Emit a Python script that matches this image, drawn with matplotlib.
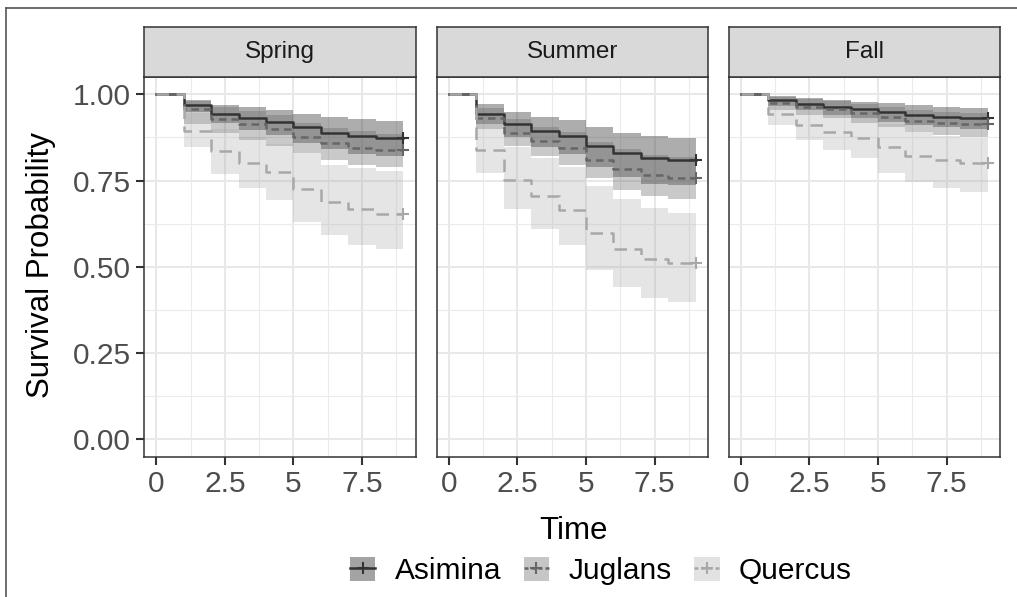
import matplotlib
matplotlib.use('Agg')
import matplotlib.pyplot as plt
from matplotlib.lines import Line2D
from matplotlib.patches import Patch
from matplotlib.legend_handler import HandlerTuple

plt.rcParams['font.family'] = ['Liberation Sans', 'DejaVu Sans']

# step times (value holds from t[i] to t[i+1]); last point is the censor at 9
times = [0, 1, 2, 3, 4, 5, 6, 7, 8, 9]
seasons = ['Spring', 'Summer', 'Fall']
species = ['Asimina', 'Juglans', 'Quercus']

# Spring
spr_asi = [1.0, 0.968, 0.944, 0.930, 0.920, 0.904, 0.888, 0.879, 0.874]
spr_asi_lo = [1.0, 0.948, 0.917, 0.896, 0.883, 0.860, 0.840, 0.828, 0.822]
spr_asi_hi = [1.0, 0.983, 0.970, 0.962, 0.954, 0.944, 0.933, 0.927, 0.923]
spr_jug = [1.0, 0.956, 0.928, 0.915, 0.899, 0.875, 0.858, 0.845, 0.838]
spr_jug_lo = [1.0, 0.915, 0.887, 0.867, 0.850, 0.830, 0.810, 0.795, 0.790]
spr_jug_hi = [1.0, 0.980, 0.962, 0.952, 0.940, 0.918, 0.903, 0.893, 0.886]
spr_que = [1.0, 0.894, 0.835, 0.802, 0.774, 0.726, 0.689, 0.667, 0.654]
spr_que_lo = [1.0, 0.846, 0.769, 0.728, 0.694, 0.631, 0.591, 0.562, 0.553]
spr_que_hi = [1.0, 0.945, 0.900, 0.875, 0.855, 0.830, 0.795, 0.785, 0.778]

# Summer
sum_asi = [1.0, 0.944, 0.915, 0.894, 0.880, 0.850, 0.829, 0.814, 0.810]
sum_asi_lo = [1.0, 0.913, 0.876, 0.847, 0.828, 0.788, 0.761, 0.740, 0.736]
sum_asi_hi = [1.0, 0.971, 0.949, 0.935, 0.925, 0.904, 0.888, 0.879, 0.874]
sum_jug = [1.0, 0.930, 0.889, 0.865, 0.845, 0.810, 0.783, 0.765, 0.757]
sum_jug_lo = [1.0, 0.898, 0.850, 0.821, 0.795, 0.757, 0.723, 0.704, 0.696]
sum_jug_hi = [1.0, 0.960, 0.928, 0.905, 0.892, 0.862, 0.840, 0.825, 0.818]
sum_que = [1.0, 0.838, 0.752, 0.704, 0.665, 0.598, 0.552, 0.524, 0.511]
sum_que_lo = [1.0, 0.771, 0.667, 0.610, 0.564, 0.492, 0.442, 0.410, 0.399]
sum_que_hi = [1.0, 0.913, 0.848, 0.814, 0.790, 0.735, 0.696, 0.670, 0.657]

# Fall
fal_asi = [1.0, 0.983, 0.973, 0.963, 0.956, 0.949, 0.941, 0.935, 0.932]
fal_asi_lo = [1.0, 0.966, 0.953, 0.940, 0.930, 0.921, 0.911, 0.904, 0.900]
fal_asi_hi = [1.0, 0.995, 0.990, 0.984, 0.979, 0.974, 0.968, 0.963, 0.961]
fal_jug = [1.0, 0.976, 0.963, 0.956, 0.946, 0.933, 0.922, 0.917, 0.913]
fal_jug_lo = [1.0, 0.954, 0.939, 0.930, 0.918, 0.904, 0.891, 0.882, 0.877]
fal_jug_hi = [1.0, 0.993, 0.985, 0.980, 0.972, 0.962, 0.953, 0.950, 0.947]
fal_que = [1.0, 0.944, 0.911, 0.891, 0.874, 0.846, 0.822, 0.810, 0.802]
fal_que_lo = [1.0, 0.911, 0.867, 0.838, 0.816, 0.773, 0.747, 0.728, 0.718]
fal_que_hi = [1.0, 0.975, 0.953, 0.940, 0.930, 0.915, 0.890, 0.880, 0.873]

curves = {
    'Spring': [(spr_asi, spr_asi_lo, spr_asi_hi), (spr_jug, spr_jug_lo, spr_jug_hi), (spr_que, spr_que_lo, spr_que_hi)],
    'Summer': [(sum_asi, sum_asi_lo, sum_asi_hi), (sum_jug, sum_jug_lo, sum_jug_hi), (sum_que, sum_que_lo, sum_que_hi)],
    'Fall': [(fal_asi, fal_asi_lo, fal_asi_hi), (fal_jug, fal_jug_lo, fal_jug_hi), (fal_que, fal_que_lo, fal_que_hi)],
}

line_cols = ['#333333', '#666666', '#a8a8a8']
fill_cols = ['#333333', '#666666', '#aaaaaa']
fill_alpha = [0.40, 0.35, 0.30]
key_cols = ['#a3a3a3', '#c6c6c6', '#e2e2e2']
dashes = [None, (3.0, 2.0), (5.0, 3.0)]
lw = 1.8


def ext(v):
    return list(v) + [v[-1]]


W, H = 1017, 597
fig = plt.figure(figsize=(W / 100, H / 100), dpi=100)


def box(l, t, r, b):
    return [l / W, 1 - b / H, (r - l) / W, (b - t) / H]


panel_left = [144, 436.5, 728.5]
pw = 271.5
top, bottom, strip_top = 77, 456.7, 26.7

for i, season in enumerate(seasons):
    l = panel_left[i]
    ax = fig.add_axes(box(l, top, l + pw, bottom))
    ax.set_xlim(-0.45, 9.45)
    ax.set_ylim(-0.05, 1.05)
    ax.set_xticks([0, 2.5, 5, 7.5])
    ax.set_xticklabels(['0', '2.5', '5', '7.5'])
    ax.set_xticks([1.25, 3.75, 6.25, 8.75], minor=True)
    ax.set_yticks([0, 0.25, 0.5, 0.75, 1.0])
    ax.set_yticks([0.125, 0.375, 0.625, 0.875], minor=True)
    ax.set_axisbelow(True)
    ax.grid(which='major', color='#E8E8E8', lw=1.5)
    ax.grid(which='minor', color='#EBEBEB', lw=0.8)
    ax.tick_params(which='minor', length=0)
    ax.tick_params(which='major', length=5.5, width=1.5, color='#333333',
                   labelsize=21.5, labelcolor='#4D4D4D', pad=4)
    if i == 0:
        ax.set_yticklabels(['0.00', '0.25', '0.50', '0.75', '1.00'])
    else:
        ax.set_yticklabels([])
        ax.tick_params(axis='y', length=0)
    for s in ax.spines.values():
        s.set_color('#333333')
        s.set_linewidth(1.1)

    for k, (est, lo, hi) in enumerate(curves[season]):
        ax.fill_between(times, ext(lo), ext(hi), step='post',
                        color=fill_cols[k], alpha=fill_alpha[k], lw=0)
    for k, (est, lo, hi) in enumerate(curves[season]):
        ln, = ax.step(times, ext(est), where='post', color=line_cols[k], lw=lw)
        if dashes[k] is not None:
            ln.set_dashes(dashes[k])
        ax.plot(times[-1], est[-1], marker='+', ms=8.5, mew=1.5,
                color=line_cols[k], ls='none')

    st = fig.add_axes(box(l, strip_top, l + pw, top))
    st.set_facecolor('#D9D9D9')
    st.set_xticks([])
    st.set_yticks([])
    for s in st.spines.values():
        s.set_color('#333333')
        s.set_linewidth(1.1)
    st.text(0.5, 0.5, season, ha='center', va='center', fontsize=17.5,
            color='#1A1A1A', transform=st.transAxes)

fig.text(41 / W, 1 - 265 / H, 'Survival Probability', rotation=90,
         ha='center', va='center', fontsize=22.5)
fig.text(574 / W, 1 - 531 / H, 'Time', ha='center', va='center', fontsize=22.5)

handles = []
for k in range(3):
    ln = Line2D([], [], color=line_cols[k], lw=lw, marker='+', ms=9, mew=1.5)
    if dashes[k] is not None:
        ln.set_dashes((1.6, 1.2))
    handles.append((Patch(facecolor=key_cols[k], edgecolor='none'), ln))
fig.legend(handles, species, loc='center', bbox_to_anchor=(601 / W, 1 - 571 / H),
           ncol=3, frameon=False, fontsize=21.5, handlelength=0.85,
           handleheight=0.85, handletextpad=0.65, columnspacing=0.75,
           handler_map={tuple: HandlerTuple(ndivide=1, pad=0)})

# outer frame (left and top edges only, as in the source)
fig.add_artist(Line2D([6 / W, 6 / W], [0, 1 - 8 / H], color='#555555', lw=1.2))
fig.add_artist(Line2D([6 / W, 1], [1 - 8 / H, 1 - 8 / H], color='#555555', lw=1.2))

fig.savefig('out.png', dpi=100)
